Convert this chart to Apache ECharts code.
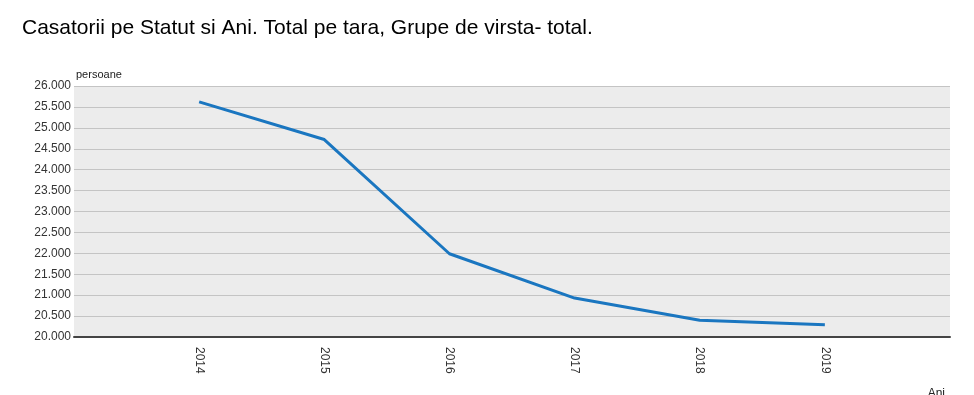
<!DOCTYPE html>
<html><head><meta charset="utf-8">
<script src="https://cdn.jsdelivr.net/npm/echarts@6/dist/echarts.min.js"></script>
<style>html,body{margin:0;padding:0;background:#fff}#c{width:974px;height:395px}</style>
</head><body><div id="c"></div>
<script>
var years = [2014, 2015, 2016, 2017, 2018, 2019];
var values = [25620, 24720, 21990, 20930, 20400, 20290];
var yTicks = [20000, 20500, 21000, 21500, 22000, 22500, 23000, 23500, 24000, 24500, 25000, 25500, 26000];
var titleText = 'Casatorii pe Statut si Ani. Total pe tara, Grupe de virsta- total.';
var yName = 'persoane';
var xName = 'Ani';

var chart = echarts.init(document.getElementById('c'), null, {renderer: 'canvas'});
chart.setOption({
  animation: false,
  backgroundColor: '#ffffff',
  title: {
    text: titleText, left: 17, top: 13,
    textStyle: {fontFamily: 'Liberation Sans, Arial', fontSize: 21, fontWeight: 'normal', color: '#000'}
  },
  grid: {left: 74, right: 24, top: 86, bottom: 58, show: true, backgroundColor: '#ececec', borderWidth: 0,
         containLabel: false, outerBoundsMode: 'none'},
  xAxis: {
    type: 'value', min: years[0] - 1, max: years[years.length - 1] + 1, interval: 1,
    name: xName, nameLocation: 'end', nameGap: 0,
    nameTextStyle: {fontFamily: 'Liberation Sans, Arial', fontSize: 12, color: '#222', align: 'right', verticalAlign: 'top', padding: [51, 5, 0, 0]},
    axisLine: {show: true, onZero: false, lineStyle: {color: '#444', width: 2}},
    axisTick: {show: false},
    splitLine: {show: false},
    axisLabel: {
      rotate: -90, margin: 10, fontFamily: 'Liberation Sans, Arial', fontSize: 12, color: '#333',
      formatter: function (v) { return years.indexOf(v) >= 0 ? String(v) : ''; }
    }
  },
  yAxis: {
    type: 'value', min: yTicks[0], max: yTicks[yTicks.length - 1], interval: 500,
    name: yName, nameLocation: 'end', nameGap: 3,
    nameTextStyle: {fontFamily: 'Liberation Sans, Arial', fontSize: 11, color: '#222', align: 'left', padding: [0, 0, 0, 2]},
    axisLine: {show: false},
    axisTick: {show: false},
    splitLine: {show: true, lineStyle: {color: '#c4c4c4', width: 1}},
    axisLabel: {
      margin: 3, fontFamily: 'Liberation Sans, Arial', fontSize: 12, color: '#333',
      formatter: function (v) { return String(v).replace(/\B(?=(\d{3})+(?!\d))/g, '.'); }
    }
  },
  series: [{
    type: 'line',
    data: years.map(function (y, i) { return [y, values[i]]; }),
    showSymbol: false, symbol: 'none',
    lineStyle: {color: '#1a76c0', width: 3},
    itemStyle: {color: '#1a76c0'}
  }]
});
</script></body></html>
